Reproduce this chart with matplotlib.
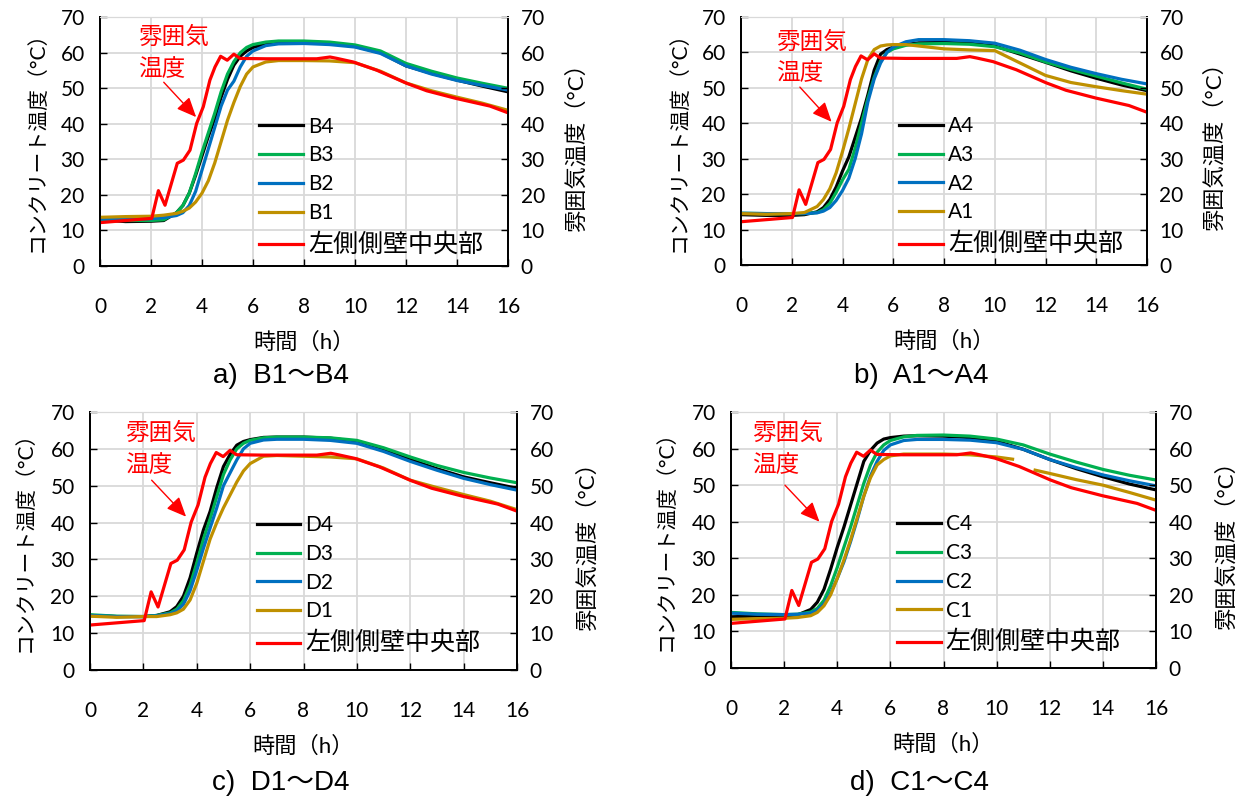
import matplotlib
matplotlib.use('Agg')
import matplotlib.pyplot as plt
import numpy as np

plt.rcParams['font.family'] = ['Lato', 'Noto Sans CJK JP', 'DejaVu Sans']

# ---------------- data ----------------
# common time grid (h) for the concrete sensors
T = [0, 1, 2, 2.5, 3, 3.25, 3.5, 3.75, 4, 4.25, 4.5, 4.75, 5, 5.25, 5.5, 5.75,
     6, 6.5, 7, 8, 9, 10, 11, 12, 13, 14, 15, 16]

# atmosphere temperature (左側側壁中央部)
ATM_T = [0, 2.03, 2.29, 2.55, 3.03, 3.27, 3.53, 3.79, 4.05, 4.31, 4.51, 4.73,
         4.99, 5.25, 5.49, 6.5, 8.5, 9.02, 9.3, 9.93, 10.85, 12.03, 12.81,
         13.99, 15.29, 16.0]
ATM = [12.2, 13.4, 21.2, 17.1, 28.9, 29.8, 32.6, 40.1, 44.8, 52.3, 56.0, 59.0,
       57.9, 59.6, 58.4, 58.3, 58.3, 58.8, 58.4, 57.4, 55.1, 51.4, 49.3,
       47.1, 45.0, 43.1]

# a) B1~B4
B4 = [13.0, 12.5, 12.6, 12.8, 15.0, 17.0, 20.5, 25.5, 31.0, 36.5, 41.5, 47.5,
      52.5, 56.5, 59.0, 60.5, 61.5, 62.4, 62.8, 62.9, 62.6, 61.8, 60.0, 56.3,
      54.2, 52.3, 50.6, 49.0]
B3 = [13.0, 12.8, 12.8, 13.0, 15.0, 17.0, 20.5, 26.0, 32.0, 37.5, 43.0, 49.0,
      54.0, 57.5, 60.0, 61.5, 62.3, 63.0, 63.3, 63.3, 63.0, 62.2, 60.5, 57.0,
      54.8, 52.9, 51.4, 50.0]
B2 = [13.2, 13.2, 13.3, 13.6, 14.2, 15.0, 17.0, 21.0, 27.0, 33.0, 39.0, 45.0,
      49.5, 52.0, 56.0, 59.0, 60.5, 62.0, 62.5, 62.6, 62.3, 61.6, 59.8, 56.3,
      54.0, 52.2, 50.8, 49.5]
B1 = [13.7, 13.9, 14.0, 14.3, 14.8, 15.4, 16.3, 18.0, 20.5, 24.0, 29.0, 35.0,
      41.0, 46.0, 50.5, 54.0, 56.0, 57.4, 57.8, 57.8, 57.7, 57.2, 54.8, 51.5,
      49.3, 47.5, 45.8, 43.8]

# b) A1~A4
A4 = [14.2, 14.0, 14.0, 14.2, 15.0, 16.2, 18.5, 22.0, 26.5, 30.5, 36.0, 41.5,
      48.0, 55.0, 59.5, 60.8, 61.5, 62.2, 62.7, 62.8, 62.6, 61.8, 59.5, 57.2,
      54.8, 52.7, 50.8, 49.2]
A3 = [14.6, 14.5, 14.5, 14.5, 14.8, 15.6, 17.4, 20.5, 24.0, 27.0, 33.0, 40.0,
      47.0, 53.0, 57.5, 60.0, 61.0, 62.0, 62.4, 62.5, 62.3, 61.6, 59.8, 57.3,
      55.2, 53.3, 51.4, 49.6]
A2 = [14.6, 14.5, 14.5, 14.5, 14.7, 15.2, 16.2, 18.2, 21.0, 24.5, 30.0, 37.0,
      46.0, 52.5, 57.0, 60.0, 61.5, 63.0, 63.6, 63.6, 63.3, 62.6, 60.6, 58.0,
      55.8, 54.0, 52.4, 51.1]
A1 = [14.5, 14.3, 14.5, 14.8, 16.5, 18.5, 21.5, 26.0, 32.0, 38.5, 45.5, 52.5,
      58.0, 60.8, 61.8, 62.1, 62.2, 62.2, 61.8, 61.0, 60.7, 60.5, 57.0, 53.5,
      51.5, 50.3, 49.2, 48.2]

# c) D1~D4
D4 = [14.8, 14.5, 14.5, 14.8, 15.8, 17.2, 20.0, 25.0, 31.7, 38.0, 43.0, 49.5,
      55.2, 58.5, 61.0, 62.0, 62.5, 63.1, 63.2, 63.2, 62.9, 62.0, 59.8, 57.1,
      54.6, 52.4, 50.8, 49.3]
D3 = [15.0, 14.6, 14.5, 14.8, 15.5, 16.5, 18.8, 23.0, 29.0, 35.5, 41.0, 47.0,
      53.0, 57.0, 60.0, 61.5, 62.3, 63.0, 63.2, 63.2, 63.0, 62.3, 60.3, 57.8,
      55.5, 53.6, 52.1, 50.8]
D2 = [14.8, 14.5, 14.5, 14.7, 15.3, 16.0, 17.8, 21.5, 27.0, 33.0, 38.5, 44.0,
      50.0, 53.5, 57.0, 60.0, 61.5, 62.4, 62.6, 62.6, 62.3, 61.5, 59.3, 56.6,
      54.2, 52.0, 50.3, 48.8]
D1 = [14.6, 14.3, 14.5, 14.5, 15.0, 15.5, 16.5, 19.0, 23.5, 29.5, 35.5, 40.0,
      44.0, 47.5, 51.0, 54.0, 56.0, 58.0, 58.2, 58.0, 57.8, 57.3, 54.8, 51.5,
      49.5, 47.6, 45.8, 43.5]

# d) C1~C4
C4 = [14.0, 14.2, 14.3, 14.5, 16.0, 18.0, 21.5, 27.0, 33.0, 38.5, 44.5, 50.5,
      56.5, 59.5, 61.5, 62.6, 63.0, 63.4, 63.5, 63.4, 63.0, 62.0, 59.8, 57.0,
      54.5, 52.3, 50.3, 48.7]
C3 = [15.2, 14.8, 14.6, 14.7, 15.3, 16.3, 18.5, 22.5, 27.5, 33.0, 38.5, 44.5,
      50.5, 55.5, 59.0, 61.0, 62.2, 63.2, 63.6, 63.7, 63.4, 62.6, 61.0, 58.5,
      56.3, 54.3, 52.7, 51.4]
C2 = [15.0, 14.7, 14.6, 14.7, 15.0, 15.8, 17.5, 20.5, 24.5, 29.0, 34.5, 40.5,
      47.0, 52.5, 56.5, 59.5, 61.0, 62.2, 62.5, 62.5, 62.3, 61.6, 59.8, 57.0,
      54.8, 52.8, 51.2, 49.8]
C1_T = [0, 1, 2, 2.5, 3, 3.25, 3.5, 3.75, 4, 4.25, 4.5, 4.75, 5, 5.25, 5.5,
        5.75, 6, 6.5, 7, 8, 9, 10, 10.6, 11.0, 11.45, 12, 13, 14, 15, 16]
C1 = [13.3, 13.5, 13.6, 13.8, 14.3, 15.2, 17.0, 20.0, 24.5, 29.5, 35.0, 41.0,
      47.0, 52.0, 55.5, 57.0, 58.0, 58.5, 58.5, 58.5, 58.3, 57.7, 57.1, np.nan,
      54.1, 53.2, 51.5, 50.0, 48.0, 45.9]

ATM_LABEL = '左側側壁中央部'
COLORS = ['#000000', '#00B050', '#0070C0', '#BF9000']

panels = [
    dict(rect=[0.080, 0.6675, 0.3264, 0.311], cap='a)  B1～B4', cap_xy=(0.225, 0.530),
         series=[('B4', T, B4), ('B3', T, B3), ('B2', T, B2), ('B1', T, B1)],
         txt=(1.49, 67.6), arr0=(2.5, 51.7), arr1=(3.77, 41.9)),
    dict(rect=[0.5928, 0.6688, 0.3248, 0.310], cap='b)  A1～A4', cap_xy=(0.737, 0.530),
         series=[('A4', T, A4), ('A3', T, A3), ('A2', T, A2), ('A1', T, A1)],
         txt=(1.40, 66.2), arr0=(2.32, 50.2), arr1=(3.57, 40.4)),
    dict(rect=[0.072, 0.1625, 0.3416, 0.3225], cap='c)  D1～D4', cap_xy=(0.225, 0.021),
         series=[('D4', T, D4), ('D3', T, D3), ('D2', T, D2), ('D1', T, D1)],
         txt=(1.31, 67.3), arr0=(2.31, 51.5), arr1=(3.60, 41.6)),
    dict(rect=[0.5848, 0.165, 0.340, 0.320], cap='d)  C1～C4', cap_xy=(0.736, 0.021),
         series=[('C4', T, C4), ('C3', T, C3), ('C2', T, C2), ('C1', C1_T, C1)],
         txt=(0.78, 67.3), arr0=(2.03, 50.0), arr1=(3.33, 40.0)),
]

fig = plt.figure(figsize=(12.5, 8), dpi=100)
GRID = '#D9D9D9'

for p in panels:
    ax = fig.add_axes(p['rect'])
    ax.set_xlim(0, 16)
    ax.set_ylim(0, 70)
    ax.set_xticks(np.arange(0, 17, 2))
    ax.set_yticks(np.arange(0, 71, 10))
    ax.grid(True, color=GRID, lw=1.3, zorder=0)
    ax.set_axisbelow(True)
    for (lab, t, y), c in zip(p['series'], COLORS):
        ax.plot(t, y, color=c, lw=2.3, label=lab, zorder=3)
    ax.plot(ATM_T, ATM, color='#FF0000', lw=2.3, label=ATM_LABEL, zorder=4)

    for s in ['left', 'bottom', 'right']:
        ax.spines[s].set_color('black')
        ax.spines[s].set_linewidth(1.3)
    ax.spines['top'].set_color(GRID)
    ax.tick_params(axis='both', direction='in', length=5, width=1, labelsize=15)
    ax.tick_params(axis='x', pad=22)
    ax.tick_params(axis='y', pad=11)

    ax2 = ax.twinx()
    ax2.set_ylim(0, 70)
    ax2.set_yticks(np.arange(0, 71, 10))
    ax2.tick_params(axis='y', direction='in', length=5, width=1, labelsize=15, pad=9)
    for s in ['left', 'bottom', 'right']:
        ax2.spines[s].set_color('black')
        ax2.spines[s].set_linewidth(1.3)
    ax2.spines['top'].set_color(GRID)

    ax.set_ylabel('コンクリート温度（°C）', fontsize=15)
    ax.yaxis.set_label_coords(-0.13, 0.52)
    ax2.set_ylabel('雰囲気温度（°C）', fontsize=16)
    ax2.yaxis.set_label_coords(1.14, 0.50)
    ax.set_xlabel('時間（h）', fontsize=16, labelpad=11)

    leg = ax.legend(loc='upper left', bbox_to_anchor=(0.39, 0.60), frameon=False,
                    fontsize=15, handlelength=2.1, handletextpad=0.25,
                    labelspacing=0.42, borderaxespad=0, borderpad=0)
    leg.get_texts()[-1].set_fontsize(18)
    for h in leg.get_lines():
        h.set_linewidth(2.3)

    ax.text(p['txt'][0], p['txt'][1], '雰囲気\n温度', color='#FF0000', fontsize=17,
            ha='left', va='top', linespacing=1.55, zorder=5)
    ax.annotate('', xy=p['arr1'], xytext=p['arr0'],
                arrowprops=dict(arrowstyle='-|>,head_length=0.8,head_width=0.35',
                                color='#FF0000', lw=1.0, mutation_scale=15,
                                shrinkA=0, shrinkB=0), zorder=5)

    fig.text(p['cap_xy'][0], p['cap_xy'][1], p['cap'], ha='center', va='center',
             fontsize=20, family=['Liberation Sans', 'Noto Sans CJK JP'])

fig.savefig('out.png', dpi=100)
